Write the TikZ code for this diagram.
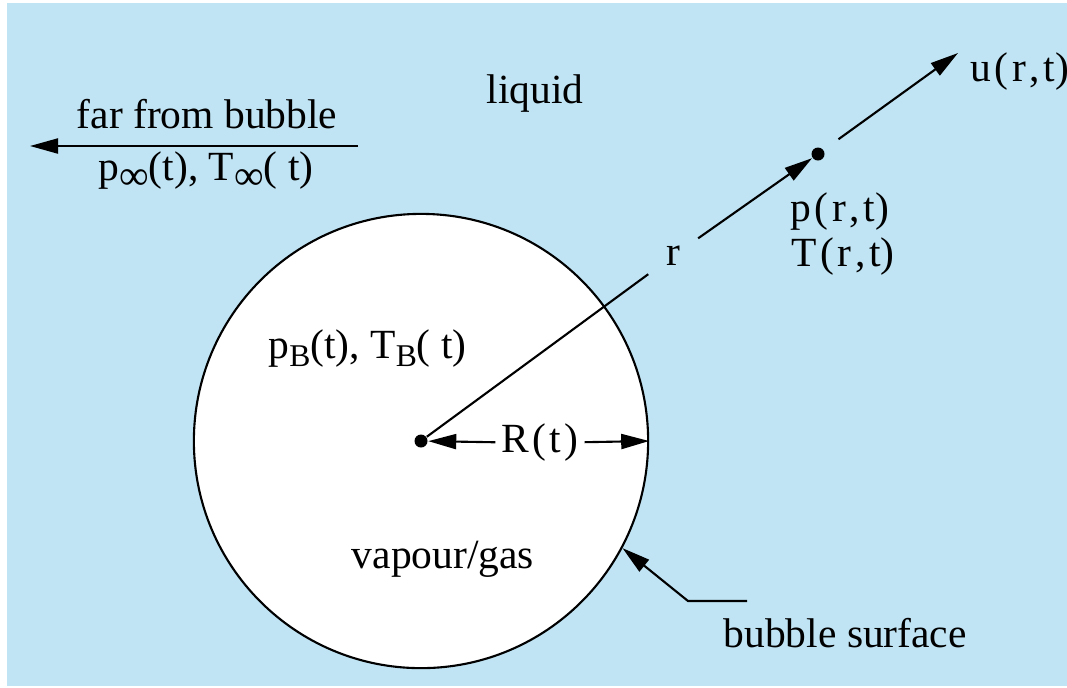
\documentclass[tikz,border=0pt]{standalone}
\usepackage{fontspec}
\setmainfont{Liberation Serif}
\usepackage{xcolor}
\usetikzlibrary{arrows.meta}
\usetikzlibrary{positioning}
\definecolor{liquidblue}{RGB}{192,228,243}
\newcommand{\lowsub}[1]{\raisebox{-0.45ex}{\small #1}}
\newcommand{\infsub}{\raisebox{-0.5ex}{∞}}
\newcommand{\gp}{\kern1pt}

\begin{document}
\begin{tikzpicture}[
    x=0.01cm, y=-0.01cm,
    every node/.style={font=\rmfamily\fontsize{11.8}{14}\selectfont},
    tip/.style={-{Triangle[length=2.8mm, width=1.5mm]}, line width=0.6pt},
    dot/.style={circle, fill=black, inner sep=0pt, minimum size=0.13cm},
    label text/.style={anchor=base, inner sep=0pt},
  ]

  \useasboundingbox (0,0) rectangle (1067,687);
  \fill[liquidblue] (7,3) rectangle (1067,686);

  \node[circle, draw, fill=white, line width=0.6pt, minimum size=4.54cm, inner sep=0pt] (bubble) at (421,441) {};
  \node[dot] (O) at (421,441) {};
  \node[dot] (P) at (818,154) {};
  \node[circle, minimum size=0.6cm, inner sep=0pt] (rlab) at (673,256) {r};
  \coordinate (U) at (958,53);

  \node[label text] (liquid) at (535,103) {liquid};
  \node[label text] (far) at (207,128) {far from bubble};
  \node[label text] (pinf) at (206,180) {p\infsub(t), T\infsub( t)};
  \coordinate (farR) at (358,146);
  \coordinate (farL) at (30,146);

  \node[label text, anchor=base west] (u) at (970,81) {u\gp(\gp r\gp,\gp t)};
  \node[label text, anchor=base west] (prt) at (790,221) {p\gp(\gp r\gp,\gp t)};
  \node[label text, anchor=base west] (Trt) at (791,266) {T\gp(\gp r\gp,\gp t)};
  \node[label text, anchor=base west] (pB) at (268,358) {p\lowsub{B}(t), T\lowsub{B}( t)};
  \node[label text] (vap) at (443,568) {vapour/gas};
  \node[label text, anchor=base west] (surf) at (723,647) {bubble surface};
  \node[inner sep=1.5pt] (Rlab) at (540,443) {R\gp(\gp t\gp)};

  \coordinate (knee) at (688,601);
  \coordinate (kend) at (747,601);

  \draw[tip] (farR) -- (farL);
  \draw[line width=0.6pt] (O) -- (rlab);
  \draw[tip] (rlab) -- (P);
  \draw[tip, shorten <=0.18cm] (P) -- (U);
  \draw[tip] (Rlab) -- (O);
  \draw[tip] (Rlab) -- (bubble.east);
  \draw[tip] (kend) -- (knee) -- (bubble.-28.7);

\end{tikzpicture}
\end{document}
